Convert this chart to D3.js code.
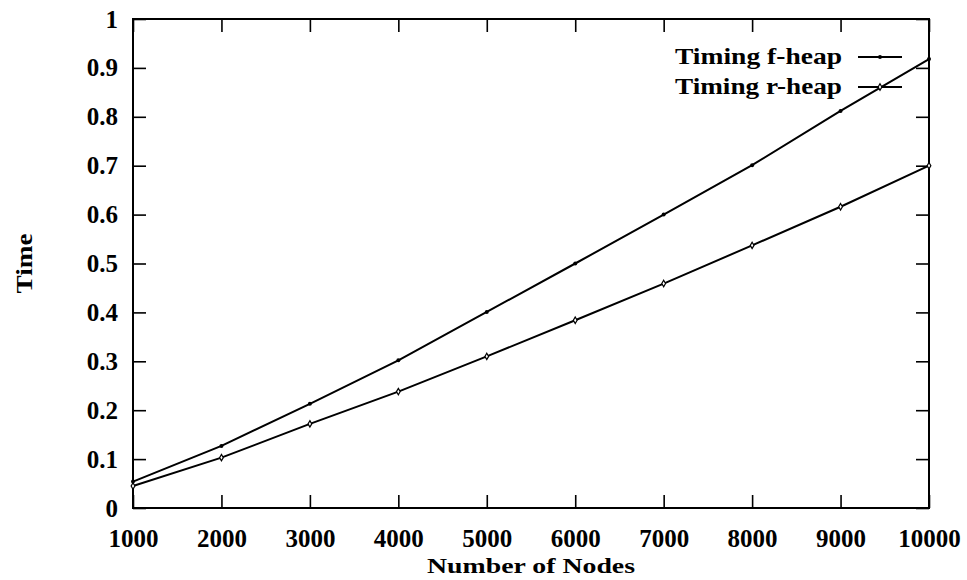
<!DOCTYPE html>
<html>
<head>
<meta charset="utf-8">
<script src="https://cdn.jsdelivr.net/npm/d3@7"></script>
<style>
  html, body { margin: 0; padding: 0; background: #fff; }
  svg { display: block; }
</style>
</head>
<body>
<div id="container"></div>
<script>
// Data
const nodes = [1000, 2000, 3000, 4000, 5000, 6000, 7000, 8000, 9000, 10000];
const fHeap = [0.054, 0.127, 0.213, 0.302, 0.401, 0.500, 0.600, 0.701, 0.812, 0.918];
const rHeap = [0.045, 0.103, 0.172, 0.238, 0.310, 0.384, 0.459, 0.537, 0.616, 0.700];
const yTicks = [0, 0.1, 0.2, 0.3, 0.4, 0.5, 0.6, 0.7, 0.8, 0.9, 1];
const seriesNames = ["Timing f-heap", "Timing r-heap"];

const W = 967, H = 580;
const M = { left: 133, right: 929, top: 19, bottom: 508 };
const TICK = 13;
const FONT = "'Liberation Serif', 'Times New Roman', serif";

const x = d3.scaleLinear().domain([1000, 10000]).range([M.left, M.right]);
const y = d3.scaleLinear().domain([0, 1]).range([M.bottom, M.top]);

const svg = d3.select("#container").append("svg")
    .attr("width", W).attr("height", H)
    .attr("viewBox", [0, 0, W, H]);

// inward ticks on all four sides (gnuplot style)
const addAxis = (axis, tx, ty) => {
    const g = svg.append("g").attr("transform", `translate(${tx},${ty})`).call(axis);
    g.select(".domain").remove();
    g.selectAll("line").attr("stroke", "#000").attr("stroke-width", 1.6);
    g.selectAll("text").attr("font-family", FONT).attr("font-weight", "bold")
        .attr("font-size", 25).attr("fill", "#000");
    return g;
};

addAxis(d3.axisBottom(x).tickValues(nodes).tickSize(-TICK).tickPadding(21).tickFormat(d3.format("d")), 0, M.bottom)
    .selectAll("text").attr("dy", "0.71em");
addAxis(d3.axisTop(x).tickValues(nodes).tickSize(-TICK).tickFormat(""), 0, M.top);
addAxis(d3.axisLeft(y).tickValues(yTicks).tickSize(-TICK).tickPadding(15).tickFormat(d => d3.format("")(+d.toFixed(1))), M.left, 0);
addAxis(d3.axisRight(y).tickValues(yTicks).tickSize(-TICK).tickFormat(""), M.right, 0);

// frame
svg.append("rect")
    .attr("x", M.left).attr("y", M.top)
    .attr("width", M.right - M.left).attr("height", M.bottom - M.top)
    .attr("fill", "none").attr("stroke", "#000").attr("stroke-width", 2);

// axis titles
svg.append("text")
    .attr("x", (M.left + M.right) / 2).attr("y", 573)
    .attr("text-anchor", "middle")
    .attr("font-family", FONT).attr("font-weight", "bold").attr("font-size", 22)
    .attr("textLength", 208).attr("lengthAdjust", "spacingAndGlyphs")
    .text("Number of Nodes");

svg.append("text")
    .attr("transform", `translate(32,${(M.top + M.bottom) / 2}) rotate(-90)`)
    .attr("text-anchor", "middle")
    .attr("font-family", FONT).attr("font-weight", "bold").attr("font-size", 23)
    .attr("textLength", 60).attr("lengthAdjust", "spacingAndGlyphs")
    .text("Time");

// series
const series = [fHeap, rHeap];
const line = d3.line().x((d, i) => x(nodes[i])).y(d => y(d));

const drawMarker = (sel, s) => s === 0
    ? sel.append("circle").attr("r", 2).attr("fill", "#000")
    : sel.append("path").attr("d", d3.symbol(d3.symbolDiamond, 12))
        .attr("fill", "#fff").attr("stroke", "#000").attr("stroke-width", 1.2);

const plot = svg.append("g");
series.forEach((vals, s) => {
    plot.append("path").datum(vals)
        .attr("d", line)
        .attr("fill", "none").attr("stroke", "#000").attr("stroke-width", 2);

    plot.append("g").selectAll("g").data(vals).join("g")
        .attr("transform", (d, i) => `translate(${x(nodes[i])},${y(d)})`)
        .each(function () { drawMarker(d3.select(this), s); });
});

// legend
const legendY = [57, 87];
const legend = svg.append("g");
seriesNames.forEach((name, s) => {
    legend.append("text")
        .attr("x", 842).attr("y", legendY[s] + 7)
        .attr("text-anchor", "end")
        .attr("font-family", FONT).attr("font-weight", "bold").attr("font-size", 23)
        .attr("textLength", 167).attr("lengthAdjust", "spacingAndGlyphs")
        .text(name);
    legend.append("line")
        .attr("x1", 858).attr("x2", 902).attr("y1", legendY[s]).attr("y2", legendY[s])
        .attr("stroke", "#000").attr("stroke-width", 2);
    drawMarker(legend.append("g").attr("transform", `translate(880,${legendY[s]})`), s);
});
</script>
</body>
</html>
